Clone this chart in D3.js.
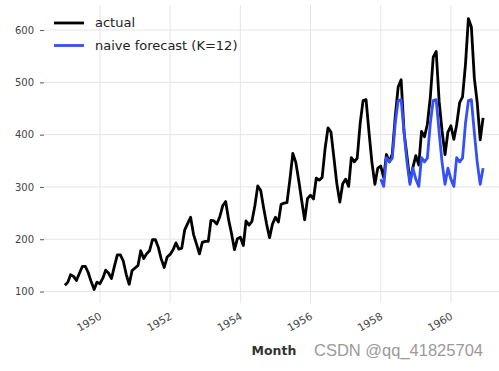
<!DOCTYPE html>
<html>
<head>
<meta charset="utf-8">
<script src="https://cdn.jsdelivr.net/npm/d3@7"></script>
<style>
  body { margin: 0; background: #fff; }
  svg { display: block; }
</style>
</head>
<body>
<div id="chart"></div>
<script>
// Monthly passengers, 1949-01 .. 1960-12
const years = [1949, 1950, 1951, 1952, 1953, 1954, 1955, 1956, 1957, 1958, 1959, 1960];
const actual = [
  112, 118, 132, 129, 121, 135, 148, 148, 136, 119, 104, 118,
  115, 126, 141, 135, 125, 149, 170, 170, 158, 133, 114, 140,
  145, 150, 178, 163, 172, 178, 199, 199, 184, 162, 146, 166,
  171, 180, 193, 181, 183, 218, 230, 242, 209, 191, 172, 194,
  196, 196, 236, 235, 229, 243, 264, 272, 237, 211, 180, 201,
  204, 188, 235, 227, 234, 264, 302, 293, 259, 229, 203, 229,
  242, 233, 267, 269, 270, 315, 364, 347, 312, 274, 237, 278,
  284, 277, 317, 313, 318, 374, 413, 405, 355, 306, 271, 306,
  315, 301, 356, 348, 355, 422, 465, 467, 404, 347, 305, 336,
  340, 318, 362, 348, 363, 435, 491, 505, 404, 359, 310, 337,
  360, 342, 406, 396, 420, 472, 548, 559, 463, 407, 362, 405,
  417, 391, 419, 461, 472, 535, 622, 606, 508, 461, 390, 432
];
// Naive seasonal forecast from 1958-01 .. 1960-12
const forecastStart = 1958;
const forecast = [
  315, 301, 356, 348, 355, 422, 465, 467, 404, 347, 305, 336,
  315, 301, 356, 348, 355, 422, 465, 467, 404, 347, 305, 336,
  315, 301, 356, 348, 355, 422, 465, 467, 404, 347, 305, 336
];
const yTicks = [100, 200, 300, 400, 500, 600];
const xTickYears = [1950, 1952, 1954, 1956, 1958, 1960];
const seriesNames = ["actual", "naive forecast (K=12)"];

const W = 499, H = 371;
const plot = {left: 44, right: 504, top: 5, bottom: 303};

const actualData = actual.map((v, i) => ({date: new Date(years[0], i, 1), value: v}));
const forecastData = forecast.map((v, i) => ({date: new Date(forecastStart, i, 1), value: v}));

const t0 = actualData[0].date, t1 = actualData[actualData.length - 1].date;
const tpad = (t1 - t0) * 0.05;
const x = d3.scaleTime()
    .domain([new Date(+t0 - tpad), new Date(+t1 + tpad)])
    .range([plot.left, plot.right]);

const vmin = d3.min(actual), vmax = d3.max(actual);
const vpad = (vmax - vmin) * 0.05;
const y = d3.scaleLinear()
    .domain([vmin - vpad, vmax + vpad])
    .range([plot.bottom, plot.top]);

const svg = d3.select("#chart").append("svg")
    .attr("width", W)
    .attr("height", H);

// grid
const grid = svg.append("g").attr("stroke", "#e5e5e5").attr("stroke-width", 1);
grid.selectAll(".gy").data(yTicks).enter().append("line")
    .attr("x1", plot.left).attr("x2", plot.right)
    .attr("y1", d => y(d)).attr("y2", d => y(d));
grid.selectAll(".gx").data(xTickYears).enter().append("line")
    .attr("x1", d => x(new Date(d, 0, 1))).attr("x2", d => x(new Date(d, 0, 1)))
    .attr("y1", plot.top).attr("y2", plot.bottom);

// y axis
const yAxis = svg.append("g")
    .attr("transform", `translate(${plot.left},0)`)
    .call(d3.axisLeft(y).tickValues(yTicks).tickSize(4).tickPadding(6));
yAxis.select(".domain").remove();
yAxis.selectAll(".tick line").attr("stroke", "#555");
yAxis.selectAll("text")
    .attr("fill", "#444")
    .style("font-family", "DejaVu Sans")
    .style("font-size", "10px");

// x axis labels (rotated)
const xLab = svg.append("g");
xLab.selectAll("text").data(xTickYears).enter().append("text")
    .attr("transform", d => `translate(${x(new Date(d, 0, 1)) - 1},${plot.bottom + 9}) rotate(-30)`)
    .attr("text-anchor", "end")
    .attr("dy", "0.7em")
    .attr("fill", "#444")
    .style("font-family", "DejaVu Sans")
    .style("font-size", "10.5px")
    .text(d => d);

svg.append("text")
    .attr("x", 274).attr("y", 355)
    .attr("text-anchor", "middle")
    .attr("fill", "#333")
    .style("font-family", "DejaVu Sans")
    .style("font-weight", "bold")
    .style("font-size", "12.5px")
    .text("Month");

// lines
const line = d3.line().x(d => x(d.date)).y(d => y(d.value));
svg.append("path").datum(actualData)
    .attr("fill", "none").attr("stroke", "#000").attr("stroke-width", 2.8)
    .attr("stroke-linejoin", "round")
    .attr("d", line);
svg.append("path").datum(forecastData)
    .attr("fill", "none").attr("stroke", "#3550f8").attr("stroke-width", 2.8)
    .attr("stroke-linejoin", "round")
    .attr("d", line);

// legend
const colors = ["#000", "#3550f8"];
const legend = svg.append("g");
seriesNames.forEach((name, i) => {
  const ly = 23 + i * 22.5;
  legend.append("line")
      .attr("x1", 54).attr("x2", 84).attr("y1", ly).attr("y2", ly)
      .attr("stroke", colors[i]).attr("stroke-width", 2.8);
  legend.append("text")
      .attr("x", 95).attr("y", ly).attr("dy", "0.32em")
      .attr("fill", "#222")
      .style("font-family", "DejaVu Sans")
      .style("font-size", "13px")
      .text(name);
});

// watermark
svg.append("text")
    .attr("x", 483).attr("y", 356)
    .attr("text-anchor", "end")
    .attr("fill", "#9a9a9a")
    .style("font-family", "Liberation Sans")
    .style("font-size", "16.5px")
    .text("CSDN @qq_41825704");
</script>
</body>
</html>
